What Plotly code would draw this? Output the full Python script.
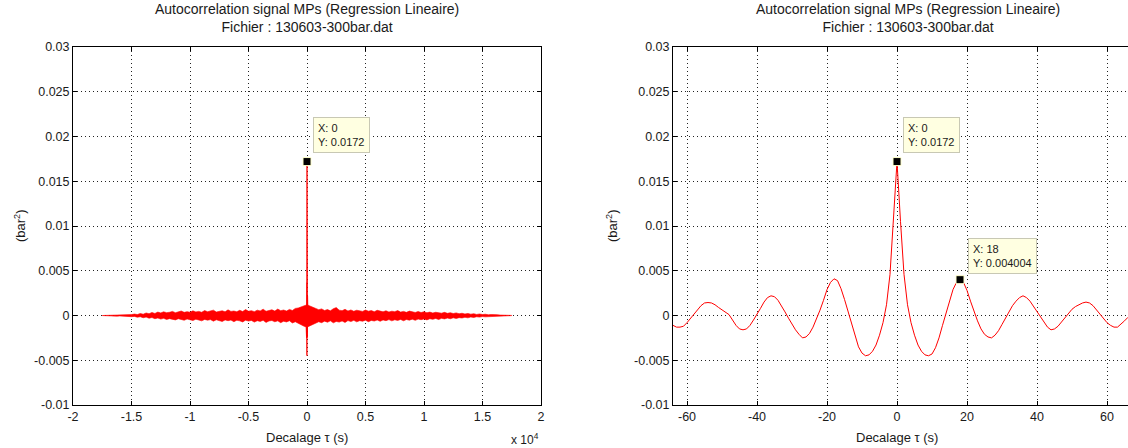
import plotly.graph_objects as go

# ---------------- data ----------------
# Autocorrelation around zero lag (s) and value (bar^2)
lag_s = list(range(-65, 68))
acf = [
    -0.0009, -0.0011, -0.0013, -0.0013, -0.0012, -0.0008, -0.0003, 0.0002, 0.0006, 0.0011,   # -65..-56
    0.0014, 0.00145, 0.0014, 0.0012, 0.0009, 0.0006, 0.0004, 0.0001, -0.0005, -0.0011,        # -55..-46
    -0.0015, -0.0016, -0.0015, -0.0011, -0.0005, 0.0001, 0.0008, 0.0015, 0.0020, 0.0022,      # -45..-36
    0.0021, 0.0017, 0.0011, 0.0004, -0.0003, -0.0010, -0.0016, -0.0021, -0.0025, -0.0024,     # -35..-26
    -0.0020, -0.0013, -0.0004, 0.0006, 0.0017, 0.0029, 0.0037, 0.0041, 0.0039, 0.0030,        # -25..-16
    0.0018, 0.0004, -0.0010, -0.0024, -0.0035, -0.0042, -0.0045, -0.0044, -0.0040, -0.0033,   # -15..-6
    -0.0022, -0.0008, 0.0012, 0.0046, 0.0105,                                                 # -5..-1
    0.0172,                                                                                   # 0
    0.0105, 0.0046, 0.0012, -0.0008, -0.0022, -0.0033, -0.0040, -0.0044, -0.0045, -0.0043,    # 1..10
    -0.0036, -0.0025, -0.0011, 0.0003, 0.0017, 0.0029, 0.0037, 0.0040, 0.0037, 0.0028,        # 11..20
    0.0016, 0.0004, -0.0006, -0.0015, -0.0021, -0.0024, -0.0025, -0.0022, -0.0017, -0.0010,   # 21..30
    -0.0003, 0.0004, 0.0011, 0.0016, 0.0020, 0.0022, 0.0020, 0.0016, 0.0010, 0.0004,          # 31..40
    -0.0002, -0.0008, -0.0013, -0.0016, -0.0015, -0.0012, -0.0007, -0.0002, 0.0003, 0.0007,   # 41..50
    0.0010, 0.0012, 0.0014, 0.0015, 0.0014, 0.0011, 0.0006, 0.0001, -0.0004, -0.0008,         # 51..60
    -0.0011, -0.0013, -0.0013, -0.0010, -0.0006, -0.0002, 0.0000,                             # 61..67
]

# Envelope of the noisy autocorrelation over the full lag range (s), in 1e-4 bar^2
band_lag = list(range(-17500, 17501, 250))
band_upper = [
    0.0, 0.1, 0.3, 0.2, 0.4, 0.3, 0.6, 0.4, 0.8, 0.5,
    1.0, 1.6, 1.1, 2.2, 1.5, 2.8, 2.0, 3.4, 2.3, 3.8,
    2.9, 4.1, 3.2, 3.6, 4.6, 3.1, 4.0, 5.0, 3.5, 4.3,
    3.7, 5.2, 4.0, 4.6, 3.6, 5.5, 4.2, 4.8, 6.0, 3.9,
    4.7, 5.3, 4.1, 6.3, 4.6, 5.0, 4.2, 5.8, 4.4, 6.6,
    4.8, 5.4, 4.3, 6.0, 5.1, 7.1, 4.7, 5.6, 6.4, 4.9,
    7.2, 5.4, 6.1, 5.0, 6.8, 5.6, 7.9, 8.4, 9.6, 11.2,
    12.0, 10.6, 9.2, 8.0, 6.5, 7.4, 5.6, 6.6, 5.2, 7.6,
    8.8, 6.0, 5.4, 6.9, 5.0, 6.2, 4.7, 5.9, 5.3, 4.6,
    6.1, 4.8, 5.5, 4.2, 5.8, 4.6, 4.1, 5.3, 3.9, 4.8,
    4.3, 5.5, 3.8, 4.6, 3.5, 4.9, 3.9, 3.4, 4.5, 3.3,
    4.2, 3.1, 3.8, 2.8, 3.6, 3.0, 2.6, 3.5, 2.4, 3.1,
    2.2, 2.9, 2.0, 2.5, 1.7, 2.3, 1.5, 2.0, 1.2, 1.7,
    1.1, 1.4, 0.8, 1.1, 0.6, 0.9, 0.5, 0.6, 0.3, 0.3,
    0.1,
]
band_lower = [
    -0.1, -0.2, -0.3, -0.5, -0.4, -0.7, -0.5, -0.9, -0.7, -1.0,
    -1.3, -1.0, -1.9, -1.4, -2.5, -1.8, -3.0, -2.3, -3.6, -2.8,
    -4.0, -3.2, -4.4, -3.5, -3.9, -4.9, -3.6, -4.5, -5.3, -3.9,
    -4.8, -5.6, -4.1, -5.0, -6.0, -4.4, -5.2, -4.6, -6.3, -4.8,
    -5.5, -6.7, -4.9, -5.8, -5.1, -6.9, -5.3, -6.0, -7.2, -5.2,
    -6.2, -5.5, -7.4, -5.8, -6.6, -5.4, -7.7, -6.1, -5.6, -7.0,
    -6.0, -8.0, -6.4, -7.2, -5.9, -8.3, -7.0, -9.0, -10.5, -12.0,
    -13.0, -11.8, -10.2, -8.6, -7.0, -8.0, -6.3, -7.5, -6.0, -8.2,
    -6.6, -7.4, -6.1, -7.8, -5.7, -6.8, -5.4, -7.1, -5.8, -6.4,
    -5.3, -6.9, -5.5, -6.2, -5.0, -6.5, -4.9, -5.8, -4.6, -6.0,
    -4.8, -5.5, -4.4, -5.9, -4.5, -5.2, -4.1, -5.4, -4.0, -4.7,
    -3.8, -4.9, -3.6, -4.3, -3.3, -4.5, -3.2, -3.8, -2.9, -3.6,
    -2.6, -3.3, -2.4, -2.8, -2.0, -2.6, -1.7, -2.2, -1.4, -1.8,
    -1.2, -1.5, -0.9, -1.1, -0.7, -0.9, -0.5, -0.6, -0.3, -0.3,
    -0.1,
]

# Data tips
tip_left = (0, 0.0172)
tips_right = [(0, 0.0172), (18, 0.004004)]
tip_text_left = "X: 0<br>Y: 0.0172"
tip_texts_right = ["X: 0<br>Y: 0.0172", "X: 18<br>Y: 0.004004"]

# Axis ticks
y_ticks = [-0.01, -0.005, 0, 0.005, 0.01, 0.015, 0.02, 0.025, 0.03]
y_tick_text = ["-0.01", "-0.005", "0", "0.005", "0.01", "0.015", "0.02", "0.025", "0.03"]
xl_ticks = [-20000, -15000, -10000, -5000, 0, 5000, 10000, 15000, 20000]
xl_tick_text = ["-2", "-1.5", "-1", "-0.5", "0", "0.5", "1", "1.5", "2"]
xr_ticks = [-60, -40, -20, 0, 20, 40, 60]
xr_tick_text = ["-60", "-40", "-20", "0", "20", "40", "60"]

title_lines = "Autocorrelation signal MPs (Regression Lineaire)<br>Fichier : 130603-300bar.dat"

# ---------------- figure ----------------
W, H = 1128, 448
FONT = "Liberation Sans, Arial, sans-serif"
FS_TICK = 12.5
FS_TITLE = 14
FS_LABEL = 13
RED = "#ff0000"
TXT = "#1a1a1a"

fig = go.Figure()

# left: noise band as filled envelope
poly_x = band_lag + band_lag[::-1]
poly_y = [v * 1e-4 for v in band_upper] + [v * 1e-4 for v in band_lower[::-1]]
fig.add_trace(go.Scatter(x=poly_x, y=poly_y, mode="lines", fill="toself",
                         fillcolor=RED, line=dict(color=RED, width=0.6),
                         hoverinfo="skip", showlegend=False, xaxis="x", yaxis="y"))
# left: central lags
fig.add_trace(go.Scatter(x=lag_s, y=acf, mode="lines", line=dict(color=RED, width=1.3),
                         showlegend=False, xaxis="x", yaxis="y"))
fig.add_trace(go.Scatter(x=[tip_left[0]], y=[tip_left[1]], mode="markers",
                         marker=dict(symbol="square", size=8, color="black",
                                     line=dict(color="#ffffcc", width=1)),
                         showlegend=False, xaxis="x", yaxis="y"))

# right
fig.add_trace(go.Scatter(x=lag_s, y=acf, mode="lines", line=dict(color=RED, width=1),
                         showlegend=False, xaxis="x2", yaxis="y2"))
fig.add_trace(go.Scatter(x=[t[0] for t in tips_right], y=[t[1] for t in tips_right],
                         mode="markers",
                         marker=dict(symbol="square", size=8, color="black",
                                     line=dict(color="#ffffcc", width=1)),
                         showlegend=False, xaxis="x2", yaxis="y2"))

left_dom = [73 / W, 541 / W]
right_dom = [673 / W, 1.0]

axis_common = dict(showline=True, linecolor="black", linewidth=1,
                   ticks="inside", ticklen=4, tickcolor="black",
                   showgrid=True, gridcolor="#222222", gridwidth=1, griddash="1px,3px",
                   zeroline=False, tickfont=dict(family=FONT, size=FS_TICK, color=TXT),
                   automargin=False)

fig.update_layout(
    width=W, height=H,
    margin=dict(l=0, r=0, t=47, b=43),
    paper_bgcolor="white", plot_bgcolor="white",
    font=dict(family=FONT, size=FS_TICK, color=TXT),
    xaxis=dict(domain=left_dom, range=[-20000, 20000], tickvals=xl_ticks, ticktext=xl_tick_text,
               anchor="y", mirror="ticks", **axis_common),
    yaxis=dict(domain=[0, 1], range=[-0.01, 0.03], tickvals=y_ticks, ticktext=y_tick_text,
               anchor="x", mirror="ticks", **axis_common),
    xaxis2=dict(domain=right_dom, range=[-64, 66], tickvals=xr_ticks, ticktext=xr_tick_text,
                anchor="y2", mirror="ticks", **axis_common),
    yaxis2=dict(domain=[0, 1], range=[-0.01, 0.03], tickvals=y_ticks, ticktext=y_tick_text,
                anchor="x2", mirror=False, **axis_common),
)

ann = []
# titles
for xc in [307 / W, 908 / W]:
    ann.append(dict(text=title_lines, x=xc, y=1.0, xref="paper", yref="paper",
                    xanchor="center", yanchor="bottom", yshift=10, showarrow=False,
                    font=dict(family=FONT, size=FS_TITLE, color=TXT)))
# x labels
for xc in [307 / W, 897 / W]:
    ann.append(dict(text="Decalage τ (s)", x=xc, y=0, xref="paper", yref="paper",
                    xanchor="center", yanchor="top", yshift=-23, showarrow=False,
                    font=dict(family=FONT, size=FS_LABEL, color=TXT)))
# x10^4
ann.append(dict(text="x 10<sup>4</sup>", x=541 / W, y=0, xref="paper", yref="paper",
                xanchor="right", yanchor="top", yshift=-24, showarrow=False,
                font=dict(family=FONT, size=FS_LABEL - 1, color=TXT)))
# y labels
for xc in [20 / W, 612 / W]:
    ann.append(dict(text="(bar<sup>2</sup>)", x=xc, y=0.5, xref="paper", yref="paper",
                    xanchor="center", yanchor="middle", textangle=-90, showarrow=False,
                    font=dict(family=FONT, size=FS_LABEL, color=TXT)))
# data tips
tipbox = dict(showarrow=False, xanchor="left", yanchor="bottom", align="left",
              bgcolor="#ffffe1", bordercolor="#c8c8b4", borderwidth=1, borderpad=4,
              font=dict(family=FONT, size=11, color=TXT))
ann.append(dict(text=tip_text_left, x=tip_left[0], y=tip_left[1], xref="x", yref="y",
                xshift=6, yshift=9, **tipbox))
ann.append(dict(text=tip_texts_right[0], x=tips_right[0][0], y=tips_right[0][1], xref="x2", yref="y2",
                xshift=6, yshift=9, **tipbox))
ann.append(dict(text=tip_texts_right[1], x=tips_right[1][0], y=tips_right[1][1], xref="x2", yref="y2",
                xshift=8, yshift=6, **tipbox))
fig.update_layout(annotations=ann)

fig.write_html("out.html", config={"displayModeBar": False},
               post_script="document.body.style.margin='0';document.body.style.padding='0';")
